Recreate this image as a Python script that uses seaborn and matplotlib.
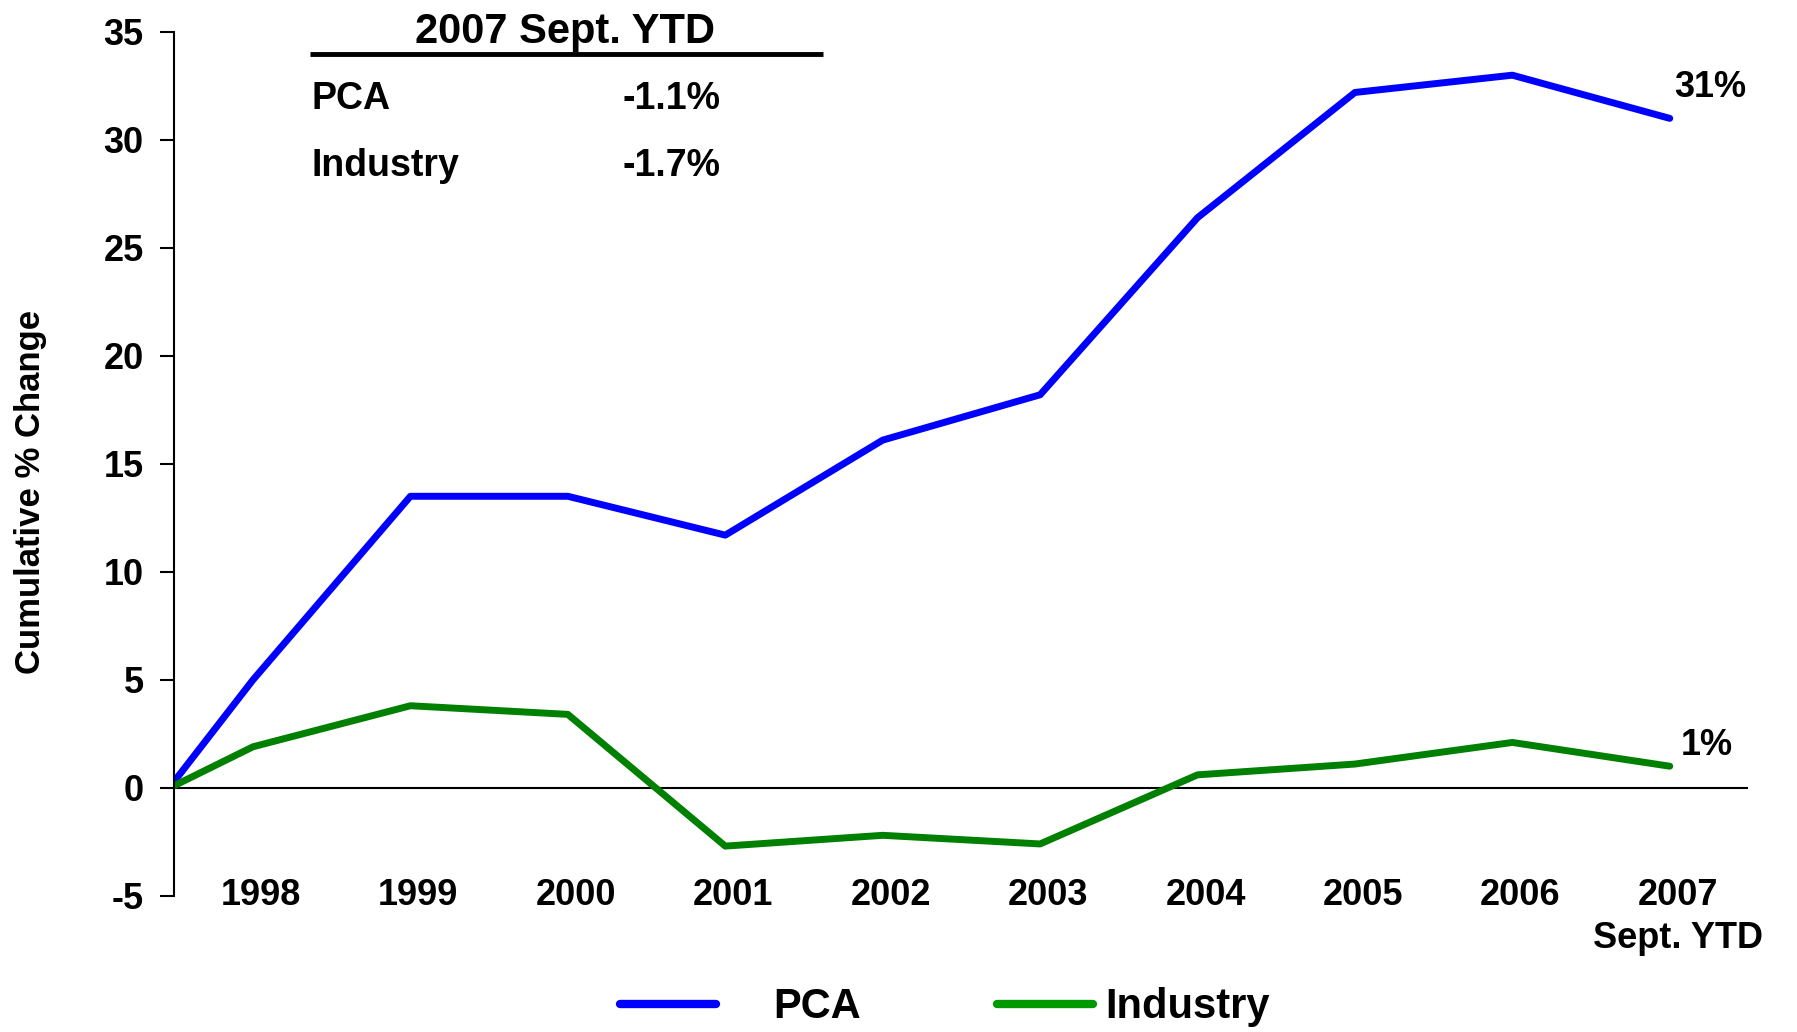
import numpy as np
import pandas as pd
import matplotlib
matplotlib.use("Agg")
import matplotlib.pyplot as plt
import matplotlib.transforms as mtransforms
import seaborn as sns

# ---------- DATA ----------
years = [1997.5, 1998, 1999, 2000, 2001, 2002, 2003, 2004, 2005, 2006, 2007]
pca = [0.3, 5.0, 13.5, 13.5, 11.7, 16.1, 18.2, 26.4, 32.2, 33.0, 31.0]
industry = [0.1, 1.9, 3.8, 3.4, -2.7, -2.2, -2.6, 0.6, 1.1, 2.1, 1.0]
tick_years = [1998, 1999, 2000, 2001, 2002, 2003, 2004, 2005, 2006, 2007]
tick_labels = ["1998", "1999", "2000", "2001", "2002", "2003", "2004",
               "2005", "2006", "2007\nSept. YTD"]
ytd_rows = ["PCA", "Industry"]
ytd_values = ["-1.1%", "-1.7%"]

df = pd.DataFrame({
    "year": years * 2,
    "change": pca + industry,
    "series": ["PCA"] * len(years) + ["Industry"] * len(years),
})

# ---------- PLOT ----------
sns.set_style("white")
plt.rcParams["font.family"] = ["Liberation Sans", "DejaVu Sans"]
plt.rcParams["font.weight"] = "bold"
plt.rcParams["axes.unicode_minus"] = False
for key in ["text.color", "axes.labelcolor", "xtick.color", "ytick.color"]:
    plt.rcParams[key] = "black"

fig = plt.figure(figsize=(17.97, 10.32), dpi=100)
ax = fig.add_axes([0.097, 0.132, 0.876, 0.837])

sns.lineplot(data=df, x="year", y="change", hue="series",
             palette={"PCA": "#0000ff", "Industry": "#008000"},
             linewidth=5, ax=ax, legend=True)

ax.axhline(0, color="black", lw=1.5, zorder=1)
ax.set_xlim(1997.5, 2007.5)
ax.set_ylim(-5, 35)
ax.set_yticks(np.arange(-5, 36, 5))
ax.set_xticks(tick_years)
ax.set_xticklabels(tick_labels, fontsize=26, fontweight="bold", linespacing=1.3)
ax.tick_params(axis="x", length=0, pad=-13)
ax.tick_params(axis="y", direction="out", length=10, width=1.5, labelsize=26, pad=12, left=True)
for lab in ax.get_yticklabels():
    lab.set_fontweight("bold")
# year labels sit a little right of the data points in the original
shift = mtransforms.ScaledTranslation(0.08, 0, fig.dpi_scale_trans)
for lab in ax.get_xticklabels():
    lab.set_transform(lab.get_transform() + shift)

for s in ["top", "right", "bottom"]:
    ax.spines[s].set_visible(False)
ax.spines["left"].set_linewidth(1.5)
ax.spines["left"].set_color("black")

ax.set_xlabel("")
ax.set_ylabel("Cumulative % Change", fontsize=25, fontweight="bold")
ax.yaxis.set_label_coords(-0.081, 0.468)

# end labels
ax.annotate("31%", (years[-1], pca[-1]), xytext=(3, 22), textcoords="offset points",
            fontsize=26, fontweight="bold", ha="left", va="center")
ax.annotate("1%", (years[-1], industry[-1]), xytext=(8, 15), textcoords="offset points",
            fontsize=26, fontweight="bold", ha="left", va="center")

# YTD table
ax.text(0.248, 1.0, "2007 Sept. YTD", transform=ax.transAxes, ha="center", va="center",
        fontsize=30, fontweight="bold", clip_on=False)
ax.plot([0.086, 0.412], [0.975, 0.975], transform=ax.transAxes, color="black", lw=3.5,
        solid_capstyle="butt")
for i, (name, val) in enumerate(zip(ytd_rows, ytd_values)):
    yy = 0.922 - i * 0.077
    ax.text(0.087, yy, name, transform=ax.transAxes, ha="left", va="center",
            fontsize=27, fontweight="bold")
    ax.text(0.285, yy, val, transform=ax.transAxes, ha="left", va="center",
            fontsize=27, fontweight="bold")

# legend: two separate entries, spaced as in the original
handles, labels = ax.get_legend_handles_labels()
ax.get_legend().remove()
leg_specs = [(0.345, 1.37, "#0000ff"), (0.555, 0.28, "#009900")]
for h, lab, (x0, pad, col) in zip(handles, labels, leg_specs):
    leg = fig.legend([h], [lab], loc="center left", bbox_to_anchor=(x0, 0.024),
                     frameon=False, fontsize=30, handlelength=2.3, handletextpad=pad,
                     borderpad=0, borderaxespad=0)
    line = leg.get_lines()[0]
    line.set_linewidth(6)
    line.set_color(col)
    for t in leg.get_texts():
        t.set_fontweight("bold")

fig.savefig("out.png", dpi=100)
plt.close(fig)
